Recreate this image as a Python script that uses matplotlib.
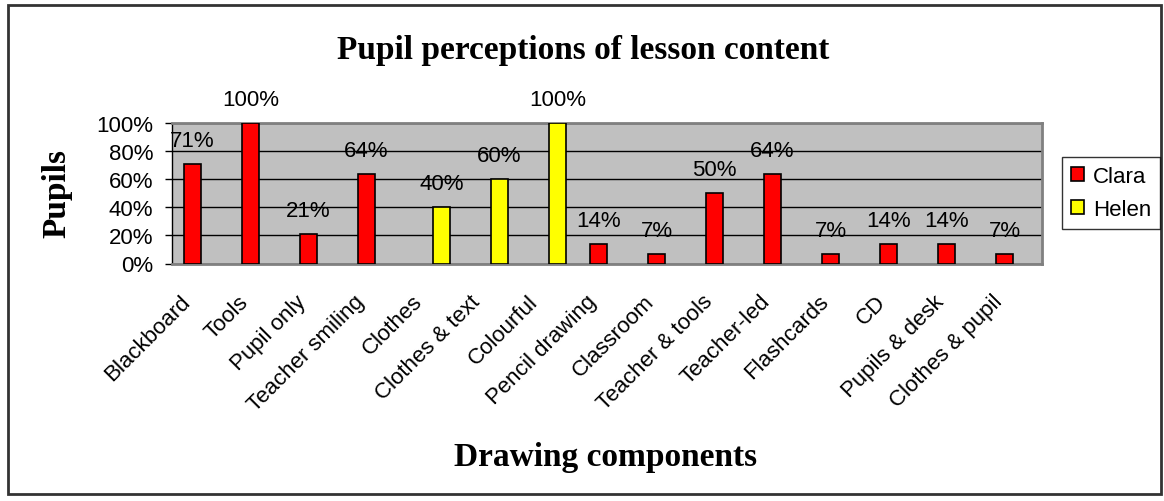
import matplotlib.pyplot as plt
import matplotlib.patches as patches
import numpy as np

categories = ['Blackboard', 'Tools', 'Pupil only', 'Teacher smiling', 'Clothes',
              'Clothes & text', 'Colourful', 'Pencil drawing', 'Classroom',
              'Teacher & tools', 'Teacher-led', 'Flashcards', 'CD',
              'Pupils & desk', 'Clothes & pupil']
clara = [71, 100, 21, 64, None, None, None, 14, 7, 50, 64, 7, 14, 14, 7]
helen = [None, None, None, None, 40, 60, 100, None, None, None, None, None, None, None, None]
yticks = [0, 20, 40, 60, 80, 100]

plt.rcParams['font.family'] = ['Liberation Sans', 'DejaVu Sans']

fig = plt.figure(figsize=(11.64, 5.02), dpi=100)
ax = fig.add_axes([172 / 1164, 1 - 264.5 / 502, 870 / 1164, 140.5 / 502])
ax.set_facecolor('#C0C0C0')

x = np.arange(len(categories))
w = 0.29

def draw(vals, off, color, label):
    xs = [xi + off for xi, v in zip(x, vals) if v is not None]
    vs = [v for v in vals if v is not None]
    ax.bar(xs, vs, width=w, color=color, edgecolor='black', linewidth=1.2,
           label=label, zorder=3)
    for xi, v in zip(xs, vs):
        ax.annotate('%d%%' % v, (xi, v), xytext=(0, 13), textcoords='offset points',
                    ha='center', va='baseline', fontsize=16, annotation_clip=False,
                    zorder=4)

draw(clara, -w / 2, '#FF0000', 'Clara')
draw(helen, w / 2, '#FFFF00', 'Helen')

ax.set_xlim(-0.5, len(categories) - 0.5)
ax.set_ylim(0, 100)
ax.set_yticks(yticks)
ax.set_yticklabels(['%d%%' % t for t in yticks], fontsize=16)
ax.yaxis.grid(True, color='black', linewidth=1, zorder=1)
ax.set_axisbelow(True)

# rotated labels sit a little left of the category centre, like in Excel
ax.set_xticks(x - 0.24)
ax.set_xticklabels(categories, fontsize=16)
plt.setp(ax.get_xticklabels(), rotation=45, ha='right', va='center',
         rotation_mode='anchor')
ax.tick_params(axis='x', length=0, pad=25)
ax.tick_params(axis='y', direction='out', length=5, width=1, pad=8.5)

for s in ['top', 'right', 'bottom']:
    ax.spines[s].set_color('#808080')
    ax.spines[s].set_linewidth(2)
ax.spines['left'].set_color('black')
ax.spines['left'].set_linewidth(1)

fig.text(583 / 1164, 1 - 59 / 502, 'Pupil perceptions of lesson content',
         family=['Liberation Serif', 'DejaVu Serif'], fontweight='bold',
         fontsize=24, ha='center', va='baseline')
fig.text(606 / 1164, 1 - 466.5 / 502, 'Drawing components',
         family=['Liberation Serif', 'DejaVu Serif'], fontweight='bold',
         fontsize=24, ha='center', va='baseline')
fig.text(57 / 1164, 1 - 193 / 502, 'Pupils',
         family=['Liberation Serif', 'DejaVu Serif'], fontweight='bold',
         fontsize=24, ha='center', va='center', rotation=90)

leg = fig.legend(loc='center left', bbox_to_anchor=(1062 / 1164, 1 - 194 / 502),
                 fontsize=16, frameon=True, fancybox=False, edgecolor='black',
                 handlelength=0.6, handleheight=0.6, handletextpad=0.4,
                 labelspacing=0.55, borderpad=0.4, borderaxespad=0)
leg.get_frame().set_linewidth(1)

fig.patches.append(patches.Rectangle((8 / 1164, 1 - 495 / 502), 1153 / 1164, 489 / 502,
                                     transform=fig.transFigure, fill=False,
                                     edgecolor='#333333', linewidth=2))

fig.savefig('out.png', dpi=100)
